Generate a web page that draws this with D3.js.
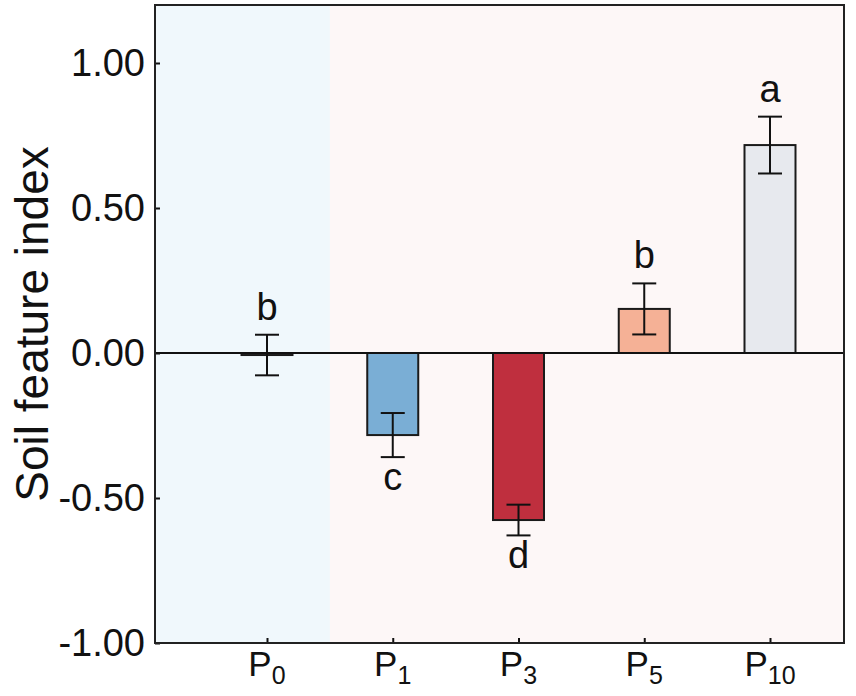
<!DOCTYPE html>
<html>
<head>
<meta charset="utf-8">
<script src="https://cdn.jsdelivr.net/npm/d3@7"></script>
<style>
  body { margin: 0; background: #fff; }
  svg { display: block; font-family: "Liberation Sans", Arial, sans-serif; }
</style>
</head>
<body>
<svg width="856" height="696"></svg>
<script>
// data
var groups = ['P0', 'P1', 'P3', 'P5', 'P10'];
var subs = ['0', '1', '3', '5', '10'];
var means = [-0.007, -0.283, -0.576, 0.152, 0.717];
var errs = [0.070, 0.076, 0.053, 0.088, 0.098];
var letters = ['b', 'c', 'd', 'b', 'a'];
var fills = ['#d6e7f2', '#7aaed5', '#bf2f3e', '#f5b196', '#e7e9ee'];
var yTicks = [-1, -0.5, 0, 0.5, 1];

// 0. setup
// ----------------------------------
var svg = d3.select('svg');
var margin = {top: 5, right: 12, bottom: 53, left: 155};
var W = 856 - margin.left - margin.right;
var H = 696 - margin.top - margin.bottom;
var g = svg.append('g').attr('transform', 'translate(' + margin.left + ',' + margin.top + ')');

var x = d3.scalePoint().domain(groups).range([112, 615]);
var step = x.step();
var barW = 51;
var y = d3.scaleLinear().domain([-1, 1.2]).range([H, 0]);

// 1. background shading (control vs treatments)
// ----------------------------------
var split = x('P0') + step / 2;
g.append('rect')
    .attr('x', 0).attr('y', 0)
    .attr('width', split).attr('height', H)
    .style('fill', '#f0f8fc');
g.append('rect')
    .attr('x', split).attr('y', 0)
    .attr('width', W - split).attr('height', H)
    .style('fill', '#fdf7f7');

// 2. bars
// ----------------------------------
var rows = groups.map(function (k, i) {
    return {key: k, sub: subs[i], mean: means[i], se: errs[i], letter: letters[i], fill: fills[i]};
});

g.selectAll('.bar')
    .data(rows)
    .enter().append('rect')
    .classed('bar', true)
    .attr('x', d => x(d.key) - barW / 2)
    .attr('y', d => y(Math.max(0, d.mean)))
    .attr('width', barW)
    .attr('height', d => Math.abs(y(d.mean) - y(0)))
    .style('fill', d => d.fill)
    .style('stroke', '#1a1a1a')
    .style('stroke-width', 2);

// zero line
g.append('line')
    .attr('x1', 0).attr('x2', W)
    .attr('y1', y(0)).attr('y2', y(0))
    .style('stroke', '#111')
    .style('stroke-width', 2);

// 3. error bars
// ----------------------------------
var capW = 12;
var eb = g.selectAll('.err')
    .data(rows)
    .enter().append('g')
    .classed('err', true)
    .style('stroke', '#111')
    .style('stroke-width', 2);

eb.append('line')
    .attr('x1', d => x(d.key)).attr('x2', d => x(d.key))
    .attr('y1', d => y(d.mean + d.se)).attr('y2', d => y(d.mean - d.se));
eb.append('line')
    .attr('x1', d => x(d.key) - capW).attr('x2', d => x(d.key) + capW)
    .attr('y1', d => y(d.mean + d.se)).attr('y2', d => y(d.mean + d.se));
eb.append('line')
    .attr('x1', d => x(d.key) - capW).attr('x2', d => x(d.key) + capW)
    .attr('y1', d => y(d.mean - d.se)).attr('y2', d => y(d.mean - d.se));

// significance letters (near-zero bars get the letter on top)
var above = d => d.mean > -0.1;
g.selectAll('.sig')
    .data(rows)
    .enter().append('text')
    .classed('sig', true)
    .attr('x', d => x(d.key))
    .attr('y', d => above(d) ? y(d.mean + d.se) - 15 : y(d.mean - d.se) + 33)
    .attr('text-anchor', 'middle')
    .style('font-size', '38px')
    .style('fill', '#111')
    .text(d => d.letter);

// 4. axes
// ----------------------------------
var fmt = d3.format('.2f');
var yAxis = g.append('g')
    .call(d3.axisLeft(y).tickValues(yTicks).tickSize(-5).tickPadding(10)
        .tickFormat(d => fmt(d).replace('\u2212', '-')));
yAxis.select('.domain').remove();
yAxis.selectAll('.tick line').style('stroke', '#111').style('stroke-width', 2);
yAxis.selectAll('.tick text').style('font-size', '38px').style('fill', '#111');

var xAxis = g.append('g')
    .attr('transform', 'translate(0,' + H + ')')
    .call(d3.axisBottom(x).tickSize(-5).tickPadding(10).tickFormat(''));
xAxis.select('.domain').remove();
xAxis.selectAll('.tick line').style('stroke', '#111').style('stroke-width', 2);

var xl = g.selectAll('.xlab')
    .data(rows)
    .enter().append('text')
    .classed('xlab', true)
    .attr('x', d => x(d.key))
    .attr('y', H + 33)
    .attr('text-anchor', 'middle')
    .style('fill', '#111');
xl.append('tspan').style('font-size', '35px').text('P');
xl.append('tspan').style('font-size', '25px').attr('dy', 8).text(d => d.sub);

// frame
g.append('rect')
    .attr('width', W).attr('height', H)
    .style('fill', 'none')
    .style('stroke', '#222')
    .style('stroke-width', 2);

// y title
svg.append('text')
    .attr('transform', 'translate(48,' + (margin.top + y(0.1)) + ') rotate(-90)')
    .attr('text-anchor', 'middle')
    .style('font-size', '46px')
    .style('fill', '#111')
    .text('Soil feature index');
</script>
</body>
</html>
